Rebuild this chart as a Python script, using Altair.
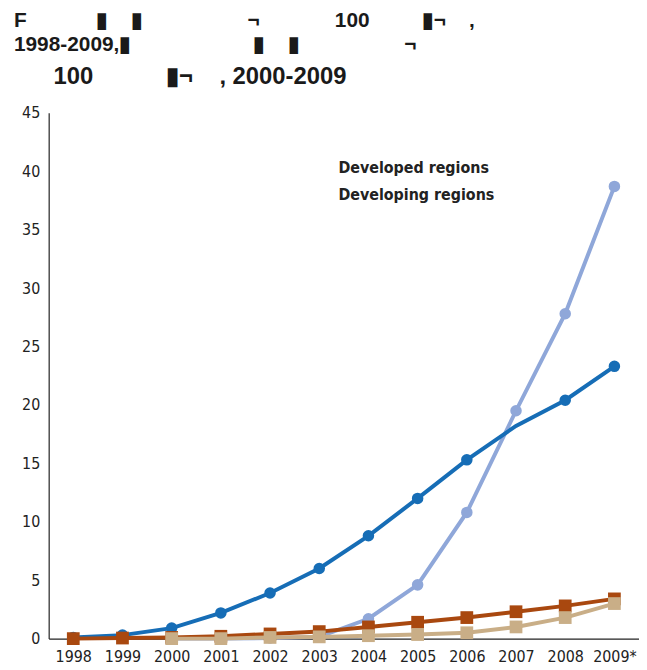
import altair as alt
import pandas as pd

years = ["1998", "1999", "2000", "2001", "2002", "2003", "2004", "2005", "2006", "2007", "2008", "2009*"]

series_names = ["Mobile developed", "Fixed developed", "Fixed developing", "Mobile developing"]
series_region = ["Developed regions", "Developed regions", "Developing regions", "Developing regions"]
series_colors = ["#8fa7d9", "#166db6", "#a9480f", "#c9ae87"]

fixed_developed = [0.1, 0.3, 0.9, 2.2, 3.9, 6.0, 8.8, 12.0, 15.3, 18.2, 20.4, 23.3]
fixed_developed_marker = [True, True, True, True, True, True, True, True, True, False, True, True]
mobile_developed = [None, None, 0.0, 0.0, 0.05, 0.15, 1.7, 4.6, 10.8, 19.5, 27.8, 38.7]
fixed_developing = [0.0, 0.05, 0.1, 0.2, 0.4, 0.6, 1.0, 1.4, 1.8, 2.3, 2.8, 3.4]
mobile_developing = [None, None, 0.0, 0.0, 0.1, 0.15, 0.25, 0.35, 0.5, 1.0, 1.8, 3.0]

values = {
    "Mobile developed": mobile_developed,
    "Fixed developed": fixed_developed,
    "Fixed developing": fixed_developing,
    "Mobile developing": mobile_developing,
}
markers = {"Fixed developed": fixed_developed_marker}
region_shapes = ["circle", "square"]
region_sizes = {"Developed regions": 135, "Developing regions": 165}

NB = "\u00a0"
BOX = "\u25ae"
title_lines = [
    "F" + NB * 12 + BOX + NB * 4 + BOX + NB * 18 + "\u00ac" + NB * 13 + "100" + NB * 9 + BOX + "\u00ac" + NB * 4 + ",",
    "1998-2009," + BOX + NB * 21 + BOX + NB * 4 + BOX + NB * 18 + "\u00ac",
]
subtitle_line = "\u200b" + NB * 6 + "100" + NB * 11 + BOX + "\u00ac" + NB * 4 + ", 2000-2009"

rows = []
for name, region in zip(series_names, series_region):
    vals = values[name]
    mk = markers.get(name, [True] * len(years))
    for i, (yr, v) in enumerate(zip(years, vals)):
        if v is None:
            continue
        rows.append({"year": yr, "value": v, "series": name, "region": region, "marker": mk[i]})
df = pd.DataFrame(rows)

COND = "DejaVu Sans Condensed"
x_enc = alt.X("year:O", sort=years, scale=alt.Scale(domain=years, paddingOuter=0.5),
              axis=alt.Axis(title=None, labelAngle=0, ticks=False, labelPadding=10,
                            labelFont=COND, labelFontSize=16, labelColor="#222222",
                            domainColor="#222222", domainWidth=1.2))
y_enc = alt.Y("value:Q", scale=alt.Scale(domain=[0, 45], nice=False),
              axis=alt.Axis(title=None, values=list(range(0, 50, 5)), ticks=False, grid=False,
                            labelPadding=9, minExtent=35, labelFont=COND,
                            labelFontSize=16, labelColor="#222222", domainColor="#222222", domainWidth=1.2))
color_enc = alt.Color("series:N", scale=alt.Scale(domain=series_names, range=series_colors), legend=None)
shape_enc = alt.Shape("region:N", scale=alt.Scale(domain=["Developed regions", "Developing regions"],
                                                  range=region_shapes),
                      legend=alt.Legend(title=None, orient="none", legendX=276, legendY=48,
                                        symbolOpacity=0, symbolStrokeWidth=0, symbolSize=1,
                                        labelOffset=0, padding=0, rowPadding=11,
                                        labelFont=COND, labelFontSize=16,
                                        labelFontWeight="bold", labelColor="#222222"))

layers = []
for name, region in zip(series_names, series_region):
    base = alt.Chart(df).transform_filter(alt.datum.series == name)
    layers.append(base.mark_line(strokeWidth=4).encode(x=x_enc, y=y_enc, color=color_enc))
    layers.append(base.transform_filter(alt.datum.marker).mark_point(
        filled=True, opacity=1, size=region_sizes[region]).encode(
        x=x_enc, y=y_enc, color=color_enc, shape=shape_enc))

chart = alt.layer(*layers).properties(
    width=595, height=530,
    padding={"left": 6, "top": 0, "right": 0, "bottom": 0},
    title=alt.TitleParams(
        text=title_lines, subtitle=subtitle_line, anchor="start", frame="bounds",
        font="Liberation Sans", fontSize=21, fontWeight="bold", color="#1a1a1a", lineHeight=24,
        subtitleFont="Liberation Sans", subtitleFontSize=24, subtitleFontWeight="bold",
        subtitleColor="#1a1a1a", subtitlePadding=10, offset=16),
).configure_view(stroke=None)

chart.save("out.html", embed_options={"renderer": "svg", "actions": False})
